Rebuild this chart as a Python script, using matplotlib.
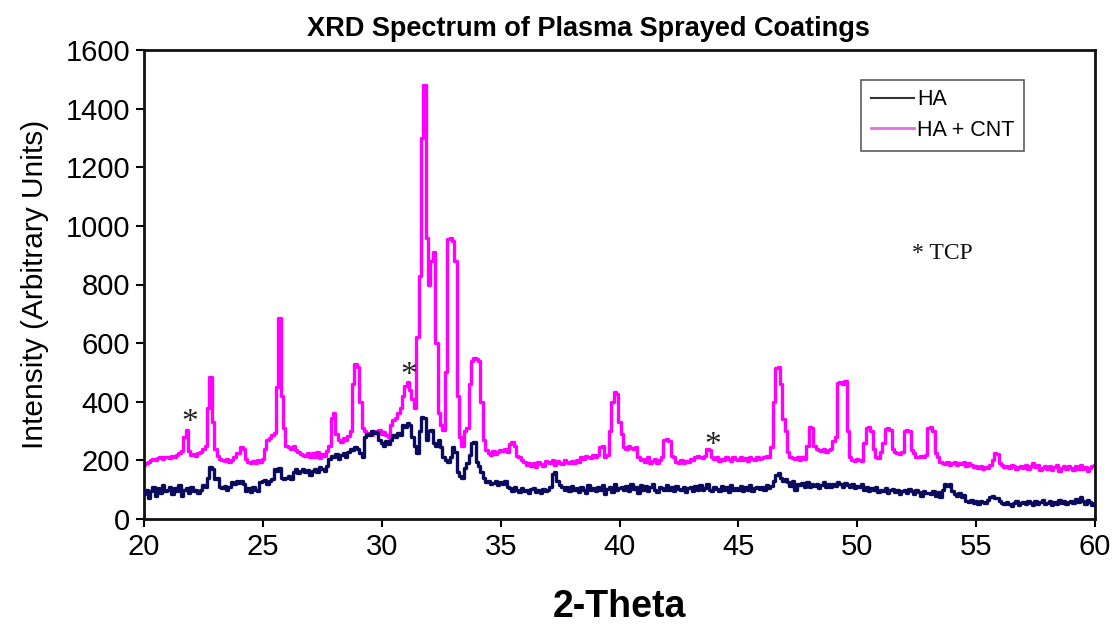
import numpy as np
import matplotlib
matplotlib.use("Agg")
import matplotlib.pyplot as plt
from matplotlib.lines import Line2D

# 2-theta grid: 20.0 .. 60.0 in steps of 0.1 (one row per degree)
two_theta_start = 20.0
two_theta_step = 0.1

ha_cnt = [
    185, 190, 195, 200, 205, 200, 208, 210, 205, 210,   # 20
    212, 208, 215, 210, 218, 225, 232, 280, 305, 232,   # 21
    218, 222, 215, 225, 230, 238, 250, 380, 485, 330,   # 22
    240, 215, 205, 200, 198, 205, 195, 200, 210, 225,   # 23
    225, 245, 240, 205, 195, 190, 198, 192, 200, 196,   # 24
    205, 240, 270, 275, 285, 295, 450, 686, 420, 310,   # 25
    250, 245, 240, 248, 235, 228, 222, 218, 215, 225,   # 26
    210, 225, 212, 230, 208, 222, 215, 232, 250, 345,   # 27
    362, 290, 268, 262, 275, 270, 282, 300, 460, 530,   # 28
    520, 400, 310, 300, 290, 295, 285, 300, 295, 305,   # 29
    290, 298, 285, 280, 320, 338, 345, 360, 380, 420,   # 30
    455, 468, 440, 410, 380, 620, 830, 1300, 1480, 960, # 31
    800, 880, 910, 600, 360, 320, 305, 500, 955, 960,   # 32
    950, 880, 420, 280, 250, 300, 310, 460, 540, 548,   # 33
    545, 540, 400, 270, 235, 225, 220, 232, 222, 228,   # 34
    236, 232, 240, 230, 255, 262, 250, 215, 210, 200,   # 35
    195, 185, 192, 180, 190, 178, 195, 188, 182, 198,   # 36
    195, 190, 200, 185, 198, 192, 188, 200, 195, 190,   # 37
    198, 192, 200, 195, 210, 205, 215, 212, 208, 218,   # 38
    210, 220, 245, 248, 212, 218, 300, 400, 432, 428,   # 39
    330, 290, 245, 240, 248, 242, 238, 245, 210, 200,   # 40
    205, 195, 210, 192, 198, 205, 190, 200, 212, 268,   # 41
    272, 265, 215, 210, 195, 190, 200, 192, 198, 196,   # 42
    205, 200, 210, 215, 212, 208, 215, 240, 235, 212,   # 43
    205, 210, 198, 205, 200, 212, 205, 198, 210, 205,   # 44
    202, 212, 200, 208, 198, 210, 205, 200, 212, 205,   # 45
    208, 212, 215, 210, 245, 400, 515, 518, 460, 340,   # 46
    300, 230, 212, 208, 205, 212, 200, 210, 205, 250,   # 47
    315, 312, 250, 240, 235, 232, 238, 230, 236, 240,   # 48
    265, 280, 465, 468, 460, 470, 300, 210, 200, 198,   # 49
    205, 200, 198, 260, 312, 315, 300, 240, 212, 208,   # 50
    230, 260, 308, 312, 305, 240, 230, 225, 222, 228,   # 51
    300, 305, 300, 235, 225, 212, 210, 215, 212, 220,   # 52
    312, 315, 300, 225, 210, 195, 190, 188, 195, 185,   # 53
    190, 195, 185, 192, 188, 195, 182, 190, 185, 178,   # 54
    180, 175, 182, 170, 178, 175, 185, 200, 225, 222,   # 55
    190, 185, 178, 182, 175, 185, 180, 172, 178, 182,   # 56
    175, 185, 170, 180, 190, 178, 185, 168, 175, 182,   # 57
    172, 180, 168, 178, 185, 165, 175, 180, 170, 182,   # 58
    175, 168, 180, 172, 185, 170, 178, 165, 175, 180,   # 59
    185,                                                # 60
]

ha = [
    85, 100, 70, 95, 110, 80, 105, 90, 115, 95,         # 20
    100, 110, 85, 105, 95, 115, 80, 100, 105, 90,       # 21
    110, 95, 100, 90, 100, 115, 108, 140, 178, 170,     # 22
    135, 140, 110, 105, 112, 100, 108, 125, 120, 128,   # 23
    122, 130, 118, 95, 105, 92, 108, 100, 95, 125,      # 24
    128, 132, 120, 130, 138, 172, 165, 175, 140, 135,   # 25
    140, 145, 135, 160, 170, 158, 165, 172, 160, 168,   # 26
    150, 165, 172, 160, 178, 170, 165, 180, 205, 215,   # 27
    210, 222, 205, 218, 225, 212, 230, 240, 235, 246,   # 28
    240, 225, 210, 280, 290, 285, 300, 295, 298, 270,   # 29
    260, 250, 265, 255, 268, 285, 280, 292, 288, 320,   # 30
    315, 328, 322, 280, 250, 225, 300, 348, 345, 270,   # 31
    300, 305, 260, 250, 270, 245, 210, 200, 195, 210,   # 32
    245, 230, 160, 145, 140, 175, 190, 220, 258, 262,   # 33
    195, 180, 160, 140, 125, 130, 118, 122, 130, 115,   # 34
    125, 118, 128, 110, 105, 95, 108, 100, 92, 105,     # 35
    95, 100, 88, 102, 105, 92, 98, 90, 104, 96,         # 36
    100, 108, 155, 160, 130, 115, 110, 100, 108, 95,    # 37
    112, 98, 105, 92, 110, 100, 88, 115, 100, 105,      # 38
    95, 110, 100, 115, 85, 102, 108, 92, 118, 100,      # 39
    105, 110, 98, 112, 95, 120, 102, 108, 90, 115,      # 40
    100, 112, 95, 108, 118, 100, 92, 110, 105, 98,      # 41
    115, 100, 108, 95, 112, 103, 98, 110, 92, 105,      # 42
    108, 95, 112, 100, 115, 98, 105, 120, 100, 96,      # 43
    110, 102, 95, 112, 100, 108, 92, 115, 98, 105,      # 44
    100, 112, 96, 108, 100, 115, 95, 105, 110, 102,     # 45
    108, 100, 115, 105, 112, 128, 150, 158, 140, 130,   # 46
    138, 125, 112, 130, 100, 118, 115, 122, 110, 125,   # 47
    108, 118, 112, 120, 105, 115, 125, 110, 118, 108,   # 48
    120, 112, 125, 118, 108, 122, 115, 110, 118, 105,   # 49
    112, 108, 118, 100, 110, 95, 105, 98, 108, 92,      # 50
    100, 95, 105, 88, 98, 102, 92, 100, 85, 95,         # 51
    98, 88, 102, 95, 85, 100, 92, 80, 95, 88,           # 52
    90, 85, 95, 78, 92, 75, 100, 118, 112, 120,         # 53
    95, 85, 80, 88, 75, 82, 62, 58, 65, 55,             # 54
    60, 52, 62, 58, 55, 65, 75, 78, 70, 72,             # 55
    60, 55, 50, 58, 52, 45, 55, 62, 48, 55,             # 56
    58, 50, 62, 55, 48, 60, 52, 58, 65, 50,             # 57
    55, 62, 48, 58, 52, 65, 55, 60, 50, 58,             # 58
    62, 55, 68, 58, 75, 60, 52, 65, 58, 48,             # 59
    55,                                                 # 60
]

x_ticks = [20, 25, 30, 35, 40, 45, 50, 55, 60]
y_ticks = [0, 200, 400, 600, 800, 1000, 1200, 1400, 1600]

# TCP markers (asterisks) : 2-theta, intensity
tcp_x = [21.94, 31.15, 43.94]
tcp_y = [330, 490, 250]

two_theta = two_theta_start + two_theta_step * np.arange(len(ha_cnt))

plt.rcParams['font.family'] = ['Liberation Sans', 'DejaVu Sans']

fig = plt.figure(figsize=(11.19, 6.29), dpi=100)
ax = fig.add_axes([144 / 1119, 1 - 519 / 629, (1095 - 144) / 1119, (519 - 50) / 629])

ax.plot(two_theta, ha, color='#0b0b5e', lw=2.4, drawstyle='steps-mid', label='HA', zorder=3)
ax.plot(two_theta, ha_cnt, color='#ff00ff', lw=2.4, drawstyle='steps-mid', label='HA + CNT', zorder=2)

ax.set_xlim(20, 60)
ax.set_ylim(0, 1600)
ax.set_xticks(x_ticks)
ax.set_yticks(y_ticks)
ax.tick_params(axis='both', direction='out', length=6, width=1.5, labelsize=21, pad=4)
for s in ax.spines.values():
    s.set_linewidth(2.0)
    s.set_color('#111111')

ax.set_title('XRD Spectrum of Plasma Sprayed Coatings', fontsize=19.5, fontweight='bold',
             x=0.467, pad=10)
ax.set_xlabel('2-Theta', fontsize=27, fontweight='bold', labelpad=20)
ax.set_ylabel('Intensity (Arbitrary Units)', fontsize=21.5, labelpad=12)

for tx, ty in zip(tcp_x, tcp_y):
    ax.text(tx, ty, '*', fontsize=24, family='Liberation Serif', ha='center', va='center', color='#222222')
ax.text(52.3, 905, '* TCP', fontsize=17, family='Liberation Serif', ha='left', va='center', color='#111111')

handles = [Line2D([], [], color='#333333', lw=1.5), Line2D([], [], color='#e070e0', lw=2.0)]
leg = ax.legend(handles, ['HA', 'HA + CNT'], loc='upper left', bbox_to_anchor=(0.743, 0.96),
                fontsize=15.5, frameon=True, fancybox=False, edgecolor='#333333',
                handlelength=2.0, handletextpad=0.15, borderpad=0.45, labelspacing=0.45)
leg.get_frame().set_linewidth(1.2)

fig.savefig('out.png', dpi=100)
